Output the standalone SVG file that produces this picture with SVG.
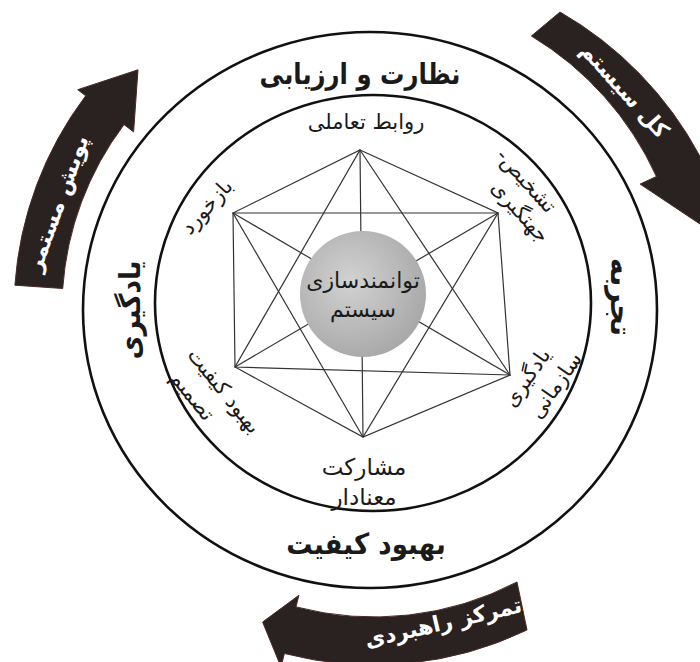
<svg xmlns="http://www.w3.org/2000/svg" width="700" height="662" viewBox="0 0 700 662">
<defs>
<radialGradient id="hub" cx="40%" cy="40%" r="70%">
<stop offset="0" stop-color="#d2d2d2"/>
<stop offset="1" stop-color="#a4a4a4"/>
</radialGradient>
<style>
.ring{fill:none;stroke:#111;stroke-width:2.6}
.edge{stroke:#333;stroke-width:1.2;fill:none}
.arrow{fill:#2a2220;stroke:#4a2a28;stroke-width:1}
text{font-family:"DejaVu Sans",sans-serif;fill:#1a1a1a;text-anchor:middle;direction:rtl}
.big{font-size:29px;font-weight:bold}
.mid{font-size:21px}
.mid2{font-size:23px}
.hubt{font-size:22px}
.arr{font-size:22px;font-weight:bold;fill:#fff}
</style>
</defs>
<rect width="700" height="662" fill="#fff"/>
<g id="rings">
<ellipse class="ring" cx="370" cy="310" rx="287" ry="278"/>
<ellipse class="ring" cx="373" cy="303" rx="218" ry="208"/>
</g>
<g id="connectors">
<polygon class="edge" points="360,150 498,213 510,375 363,437 235,367 233,213"/>
<polygon class="edge" points="360,150 510,375 235,367"/>
<polygon class="edge" points="363,437 233,213 498,213"/>
<line class="edge" x1="360" y1="150" x2="363" y2="437"/>
<line class="edge" x1="233" y1="213" x2="510" y2="375"/>
<line class="edge" x1="498" y1="213" x2="235" y2="367"/>
</g>
<g id="hub-node">
<circle cx="363" cy="294" r="63" fill="url(#hub)"/>
<text class="hubt" x="363" y="288">توانمندسازی</text>
<text class="hubt" x="363" y="317">سیستم</text>
</g>
<g id="label-top"><text class="big" transform="translate(360,84) scale(0.84,1)">نظارت و ارزیابی</text></g>
<g id="label-bottom"><text class="big" transform="translate(366,554) scale(0.9,1)">بهبود کیفیت</text></g>
<g id="label-left"><text class="big" transform="translate(130,310) rotate(-90) scale(0.9,1)" y="10">یادگیری</text></g>
<g id="label-right"><text class="big" transform="translate(621,297) rotate(90)" y="10">تجربه</text></g>
<g id="inner-top"><text class="mid" x="366" y="129">روابط تعاملی</text></g>
<g id="inner-bottom"><text class="mid2" x="364" y="475">مشارکت</text><text class="mid2" x="364" y="505">معنادار</text></g>
<g id="inner-ul"><text class="mid" transform="translate(206,206) rotate(-48)" y="8">بازخورد</text></g>
<g id="inner-ur"><g transform="translate(527,180) rotate(48)"><text class="mid" y="8">تشخیص-</text><text class="mid" x="19" y="33">جهتگیری</text></g></g>
<g id="inner-ll"><g transform="translate(225,390) rotate(51)"><text class="mid" y="8">بهبود کیفیت</text><text class="mid" x="-16" y="36">تصمیم</text></g></g>
<g id="inner-lr"><g transform="translate(526,377) rotate(-55)"><text class="mid" y="8">یادگیری</text><text class="mid" x="10" y="36">سازمانی</text></g></g>
<g id="arrow-left">
<path class="arrow" d="M62.7,288.5 A308,308 0 0 1 124,124.6 L133.6,131.9 L138,69.8 L77.7,89.7 L85.7,95.8 A356,356 0 0 0 14.9,285.2 Z"/>
<text class="arr" transform="translate(57,203) rotate(-70)" y="8">پویش مستمر</text>
</g>
<g id="arrow-right">
<path class="arrow" d="M531.4,36 A318,318 0 0 1 656.4,176.5 L640.1,184.1 L699.9,224 L716.2,148.6 L699.9,156.2 A364,364 0 0 0 560,12 Z"/>
<text class="arr" transform="translate(625,90) rotate(48)" y="8">کل سیستم</text>
</g>
<g id="arrow-bottom">
<path class="arrow" d="M517,582 A309,309 0 0 1 296,606.9 L298.9,595.3 L262.6,622 L281,667 L284.4,653.5 A354,354 0 0 0 527,630 Z"/>
<text class="arr" transform="translate(443,622) rotate(-13)" y="8">تمرکز راهبردی</text>
</g>
</svg>
